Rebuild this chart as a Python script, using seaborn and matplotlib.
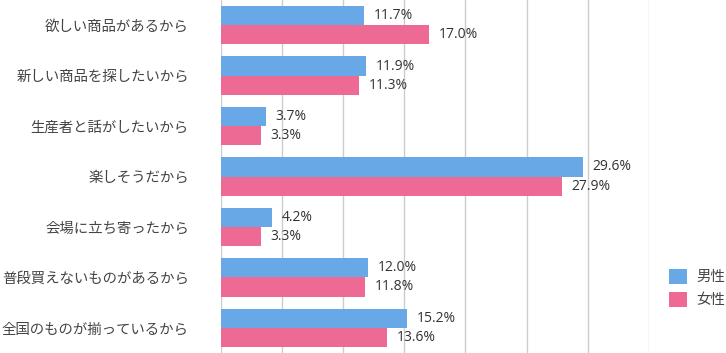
import pandas as pd
import matplotlib
matplotlib.use("Agg")
import matplotlib.pyplot as plt
import seaborn as sns
from matplotlib.patches import Patch

categories = [
    "欲しい商品があるから",
    "新しい商品を探したいから",
    "生産者と話がしたいから",
    "楽しそうだから",
    "会場に立ち寄ったから",
    "普段買えないものがあるから",
    "全国のものが揃っているから",
]
male = [11.7, 11.9, 3.7, 29.6, 4.2, 12.0, 15.2]
female = [17.0, 11.3, 3.3, 27.9, 3.3, 11.8, 13.6]
series = ["男性", "女性"]
colors = ["#68a8e7", "#ec6a94"]

df = pd.DataFrame({
    "reason": categories * 2,
    "sex": [series[0]] * len(categories) + [series[1]] * len(categories),
    "pct": male + female,
})

sns.set_theme(style="white")
plt.rcParams["font.family"] = ["Noto Sans CJK JP", "DejaVu Sans"]

fig = plt.figure(figsize=(7.26, 3.53), dpi=100)
ax = fig.add_axes([0.304, 0.0, 0.590, 1.0])

sns.barplot(data=df, y="reason", x="pct", hue="sex", order=categories,
            hue_order=series, palette=colors, orient="h", width=0.76,
            saturation=1, legend=False, ax=ax, edgecolor="none")

for cont in ax.containers:
    ax.bar_label(cont, fmt="%.1f%%", padding=7, fontsize=10,
                 color="#333333", family=["Open Sans", "DejaVu Sans"])

ax.set_xlim(0, 35)
ax.set_ylim(6.5, -0.5)
ax.set_xticks(range(0, 36, 5))
ax.set_xticklabels([])
ax.xaxis.grid(True, color="#cccccc", linewidth=1)
ax.set_axisbelow(True)
for s in ax.spines.values():
    s.set_visible(False)
ax.set_xlabel("")
ax.set_ylabel("")
ax.tick_params(axis="y", length=0, pad=23, labelsize=10.4, labelcolor="#444444")
ax.tick_params(axis="x", length=0)

handles = [Patch(facecolor=c, edgecolor="none") for c in colors]
fig.legend(handles, series, loc="center left", bbox_to_anchor=(0.921, 0.184),
           frameon=False, fontsize=10.4, labelcolor="#444444",
           borderpad=0, borderaxespad=0,
           handlelength=1.3, handleheight=1.3, handletextpad=0.6,
           labelspacing=0.5)

fig.savefig("out.png", dpi=100)
